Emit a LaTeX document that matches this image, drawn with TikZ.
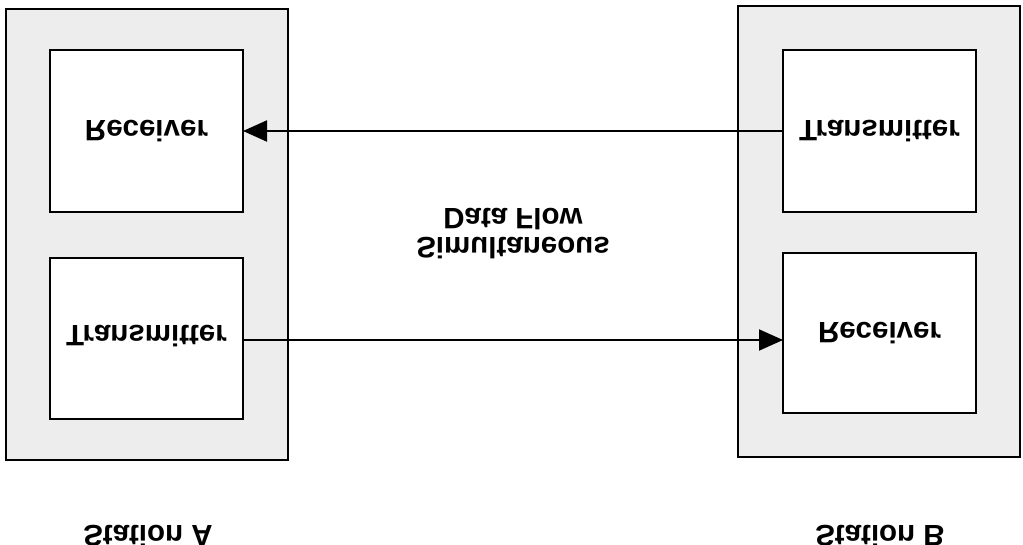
\documentclass[tikz,border=0pt]{standalone}
\usepackage{fontspec}
\setmainfont{Liberation Sans}
\usetikzlibrary{arrows.meta}
\newcommand{\flipt}[1]{\scalebox{1}[-1]{#1}}
\begin{document}
\begin{tikzpicture}[x=1pt,y=-1pt,
  station/.style={draw,line width=2pt,fill=black!7},
  unit/.style={draw,line width=2pt,fill=white},
  lbl/.style={font=\fontsize{29.5}{33}\selectfont\bfseries},
  flow/.style={line width=2pt,-{Triangle[length=24pt,width=21pt]}}]
\useasboundingbox (0,0) rectangle (1023,545);
\draw[station] (6,9) rectangle (288,460);
\draw[station] (738,6) rectangle (1020,457);
\draw[unit] (50,50) rectangle (243,212);
\draw[unit] (50,258) rectangle (243,419);
\draw[unit] (783,50) rectangle (976,212);
\draw[unit] (783,253) rectangle (976,413);
\node[lbl] (ra) at (146.5,131) {\flipt{Receiver}};
\node[lbl] (ta) at (146.5,336) {\flipt{Transmitter}};
\node[lbl] (tb) at (879.5,131) {\flipt{Transmitter}};
\node[lbl] (rb) at (879.5,333) {\flipt{Receiver}};
\coordinate (raE) at (243,131);
\coordinate (tbW) at (783,131);
\coordinate (taE) at (243,340);
\coordinate (rbW) at (783,340);
\draw[flow] (tbW) -- (raE);
\draw[flow] (taE) -- (rbW);
\node[lbl,align=center] (df) at (513,230) {\flipt{\begin{tabular}{c}Simultaneous\\[-4pt]Data Flow\end{tabular}}};
\node[lbl] (sa) at (148,536) {\flipt{Station A}};
\node[lbl] (sb) at (880,536) {\flipt{Station B}};
\end{tikzpicture}
\end{document}
